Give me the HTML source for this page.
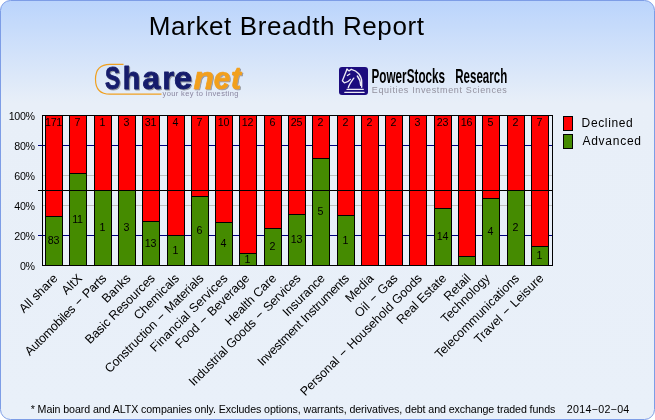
<!DOCTYPE html>
<html><head><meta charset="utf-8"><title>Market Breadth Report</title>
<style>
html,body{margin:0;padding:0;background:#fff;}
body{width:655px;height:420px;overflow:hidden;font-family:"Liberation Sans",sans-serif;}
svg{display:block;font-family:"Liberation Sans",sans-serif;will-change:transform;opacity:0.9999;}
</style></head><body>
<svg width="655" height="420" viewBox="0 0 655 420">
<defs>
<linearGradient id="bg" x1="0" y1="0" x2="0" y2="420" gradientUnits="userSpaceOnUse">
<stop offset="0" stop-color="#bad4fc"/><stop offset="0.245" stop-color="#e8eff8"/><stop offset="1" stop-color="#e9f0f9"/>
</linearGradient>
<filter id="sh" x="-5%" y="-10%" width="115%" height="130%"><feDropShadow dx="1" dy="1" stdDeviation="0.7" flood-color="#555" flood-opacity="0.55"/></filter>
</defs>
<rect x="0.5" y="0.5" width="654" height="419" rx="10" ry="10" fill="url(#bg)" stroke="#7d9de6" stroke-width="1"/>

<text x="148.8" y="34.6" font-size="26" fill="#000" textLength="275.2" lengthAdjust="spacing">Market Breadth Report</text>
<g id="sharenet">
<path d="M123.5 64.3 H110 Q95.5 64.3 95.5 79.2 Q95.5 94.2 110 94.2 H161.5" fill="none" stroke="#f0a020" stroke-width="1.2"/>
<g filter="url(#sh)">
<text transform="translate(105.09,89.3) scale(0.726,1)" font-size="31.5" font-weight="bold" fill="#141c6c" stroke="#141c6c" stroke-width="0.9" stroke-linejoin="round">S</text>
<text transform="translate(122.75,89.3) scale(0.914,1)" font-size="31.5" font-weight="bold" fill="#141c6c" stroke="#141c6c" stroke-width="0.9" stroke-linejoin="round">h</text>
<text transform="translate(142.56,89.3) scale(1.010,1)" font-size="31.5" font-weight="bold" fill="#141c6c" stroke="#141c6c" stroke-width="0.9" stroke-linejoin="round">a</text>
<text transform="translate(162.57,89.3) scale(0.955,1)" font-size="31.5" font-weight="bold" fill="#141c6c" stroke="#141c6c" stroke-width="0.9" stroke-linejoin="round">r</text>
<text transform="translate(173.94,89.3) scale(1.035,1)" font-size="31.5" font-weight="bold" fill="#141c6c" stroke="#141c6c" stroke-width="0.9" stroke-linejoin="round">e</text>
<text transform="translate(193.53,89.3) scale(1.061,1)" font-size="31.5" font-weight="bold" font-style="italic" fill="#f2a01e" stroke="#f2a01e" stroke-width="0.7" stroke-linejoin="round">n</text>
<text transform="translate(213.69,89.3) scale(0.936,1)" font-size="31.5" font-weight="bold" font-style="italic" fill="#f2a01e" stroke="#f2a01e" stroke-width="0.7" stroke-linejoin="round">e</text>
<text transform="translate(230.92,89.3) scale(0.951,1)" font-size="31.5" font-weight="bold" font-style="italic" fill="#f2a01e" stroke="#f2a01e" stroke-width="0.7" stroke-linejoin="round">t</text>
</g>
<text x="162.5" y="96.2" font-size="7.5" fill="#8a86a0" textLength="76" lengthAdjust="spacing">your key to investing</text>
</g>
<g id="ps">
<rect x="339" y="67" width="29" height="28" rx="3" fill="#1c0c7e"/>
<g transform="translate(339,67)" fill="none" stroke="#ffffff" stroke-opacity="0.92" stroke-width="1.35" stroke-linecap="round" stroke-linejoin="round">
<path d="M8 2.2 L3.4 13.7 L5.4 15.9 C8 15.6 10 14.2 11.4 12.4"/>
<path d="M8 2.2 L10.1 3.9 L12.3 2.3 C18.3 3.6 22.7 8.5 22.7 15 V20.2"/>
<path d="M14.8 11.1 C12.5 14.5 10 17.5 9.3 20.6"/>
<path d="M18.3 9 C20.3 11.5 21.5 14.5 21.7 18.4"/>
<path d="M8.4 8.5 L10.8 7"/>
<path d="M8 22.3 H24.3 M5.8 25.3 H25.1"/>
</g>
<text x="371.5" y="83.2" font-size="20.5" font-weight="bold" fill="#000" textLength="73.6" lengthAdjust="spacingAndGlyphs">PowerStocks</text>
<text x="455.3" y="83.2" font-size="20.5" font-weight="bold" fill="#000" textLength="51.9" lengthAdjust="spacingAndGlyphs">Research</text>
<text x="371.8" y="93.4" font-size="9" fill="#93919e" textLength="135" lengthAdjust="spacing">Equities Investment Sciences</text>
</g>
<g shape-rendering="crispEdges">
<rect x="42" y="235" width="510" height="1" fill="#c0c0c0"/>
<rect x="42" y="205" width="510" height="1" fill="#c0c0c0"/>
<rect x="42" y="175" width="510" height="1" fill="#c0c0c0"/>
<rect x="42" y="145" width="510" height="1" fill="#c0c0c0"/>
<rect x="38" y="235" width="514" height="1" fill="#000080"/>
<rect x="38" y="145" width="514" height="1" fill="#000080"/>
<rect x="42" y="115" width="511" height="1" fill="#000"/>
<rect x="42" y="265" width="511" height="1" fill="#000"/>
<rect x="42" y="115" width="1" height="151" fill="#000"/>
<rect x="552" y="115" width="1" height="151" fill="#000"/>
<rect x="45" y="115" width="18" height="151" fill="#000"/>
<rect x="46" y="116" width="16" height="100" fill="#ff0000"/>
<rect x="46" y="217" width="16" height="48" fill="#458b00"/>
<rect x="69" y="115" width="18" height="151" fill="#000"/>
<rect x="70" y="116" width="16" height="57" fill="#ff0000"/>
<rect x="70" y="174" width="16" height="91" fill="#458b00"/>
<rect x="94" y="115" width="18" height="151" fill="#000"/>
<rect x="95" y="116" width="16" height="74" fill="#ff0000"/>
<rect x="95" y="191" width="16" height="74" fill="#458b00"/>
<rect x="118" y="115" width="18" height="151" fill="#000"/>
<rect x="119" y="116" width="16" height="74" fill="#ff0000"/>
<rect x="119" y="191" width="16" height="74" fill="#458b00"/>
<rect x="142" y="115" width="18" height="151" fill="#000"/>
<rect x="143" y="116" width="16" height="105" fill="#ff0000"/>
<rect x="143" y="222" width="16" height="43" fill="#458b00"/>
<rect x="167" y="115" width="18" height="151" fill="#000"/>
<rect x="168" y="116" width="16" height="119" fill="#ff0000"/>
<rect x="168" y="236" width="16" height="29" fill="#458b00"/>
<rect x="191" y="115" width="18" height="151" fill="#000"/>
<rect x="192" y="116" width="16" height="80" fill="#ff0000"/>
<rect x="192" y="197" width="16" height="68" fill="#458b00"/>
<rect x="215" y="115" width="18" height="151" fill="#000"/>
<rect x="216" y="116" width="16" height="106" fill="#ff0000"/>
<rect x="216" y="223" width="16" height="42" fill="#458b00"/>
<rect x="239" y="115" width="18" height="151" fill="#000"/>
<rect x="240" y="116" width="16" height="137" fill="#ff0000"/>
<rect x="240" y="254" width="16" height="11" fill="#458b00"/>
<rect x="264" y="115" width="18" height="151" fill="#000"/>
<rect x="265" y="116" width="16" height="112" fill="#ff0000"/>
<rect x="265" y="229" width="16" height="36" fill="#458b00"/>
<rect x="288" y="115" width="18" height="151" fill="#000"/>
<rect x="289" y="116" width="16" height="98" fill="#ff0000"/>
<rect x="289" y="215" width="16" height="50" fill="#458b00"/>
<rect x="312" y="115" width="18" height="151" fill="#000"/>
<rect x="313" y="116" width="16" height="42" fill="#ff0000"/>
<rect x="313" y="159" width="16" height="106" fill="#458b00"/>
<rect x="337" y="115" width="18" height="151" fill="#000"/>
<rect x="338" y="116" width="16" height="99" fill="#ff0000"/>
<rect x="338" y="216" width="16" height="49" fill="#458b00"/>
<rect x="361" y="115" width="18" height="151" fill="#000"/>
<rect x="362" y="116" width="16" height="149" fill="#ff0000"/>
<rect x="385" y="115" width="18" height="151" fill="#000"/>
<rect x="386" y="116" width="16" height="149" fill="#ff0000"/>
<rect x="409" y="115" width="18" height="151" fill="#000"/>
<rect x="410" y="116" width="16" height="149" fill="#ff0000"/>
<rect x="434" y="115" width="18" height="151" fill="#000"/>
<rect x="435" y="116" width="16" height="92" fill="#ff0000"/>
<rect x="435" y="209" width="16" height="56" fill="#458b00"/>
<rect x="458" y="115" width="18" height="151" fill="#000"/>
<rect x="459" y="116" width="16" height="140" fill="#ff0000"/>
<rect x="459" y="257" width="16" height="8" fill="#458b00"/>
<rect x="482" y="115" width="18" height="151" fill="#000"/>
<rect x="483" y="116" width="16" height="82" fill="#ff0000"/>
<rect x="483" y="199" width="16" height="66" fill="#458b00"/>
<rect x="507" y="115" width="18" height="151" fill="#000"/>
<rect x="508" y="116" width="16" height="74" fill="#ff0000"/>
<rect x="508" y="191" width="16" height="74" fill="#458b00"/>
<rect x="531" y="115" width="18" height="151" fill="#000"/>
<rect x="532" y="116" width="16" height="130" fill="#ff0000"/>
<rect x="532" y="247" width="16" height="18" fill="#458b00"/>
<rect x="38" y="190" width="514" height="1" fill="#000"/>
</g>
<g font-size="10.67" text-anchor="middle" fill="#000" letter-spacing="-0.35">
<text x="53.45" y="125.9">171</text>
<text x="53.45" y="244.4">83</text>
<text x="77.2" y="125.9">7</text>
<text x="77.45" y="222.9">11</text>
<text x="102.2" y="125.9">1</text>
<text x="102.2" y="231.4">1</text>
<text x="126.2" y="125.9">3</text>
<text x="126.2" y="231.4">3</text>
<text x="150.45" y="125.9">31</text>
<text x="150.45" y="246.9">13</text>
<text x="175.2" y="125.9">4</text>
<text x="175.2" y="253.9">1</text>
<text x="199.2" y="125.9">7</text>
<text x="199.2" y="234.4">6</text>
<text x="223.45" y="125.9">10</text>
<text x="223.2" y="247.4">4</text>
<text x="247.45" y="125.9">12</text>
<text x="247.2" y="262.9">1</text>
<text x="272.2" y="125.9">6</text>
<text x="272.2" y="250.4">2</text>
<text x="296.45" y="125.9">25</text>
<text x="296.45" y="243.4">13</text>
<text x="320.2" y="125.9">2</text>
<text x="320.2" y="215.4">5</text>
<text x="345.2" y="125.9">2</text>
<text x="345.2" y="243.9">1</text>
<text x="369.2" y="125.9">2</text>
<text x="393.2" y="125.9">2</text>
<text x="417.2" y="125.9">3</text>
<text x="442.45" y="125.9">23</text>
<text x="442.45" y="240.4">14</text>
<text x="466.45" y="125.9">16</text>
<text x="490.2" y="125.9">5</text>
<text x="490.2" y="235.4">4</text>
<text x="515.2" y="125.9">2</text>
<text x="515.2" y="231.4">2</text>
<text x="539.2" y="125.9">7</text>
<text x="539.2" y="259.4">1</text>
</g>
<g font-size="10.67" text-anchor="end" fill="#000" letter-spacing="-0.3">
<text x="34.7" y="269.8">0%</text>
<text x="34.7" y="239.8">20%</text>
<text x="34.7" y="209.8">40%</text>
<text x="34.7" y="179.8">60%</text>
<text x="34.7" y="149.8">80%</text>
<text x="34.7" y="119.8">100%</text>
</g>
<g font-size="12.5" text-anchor="end" fill="#000">
<text transform="translate(58.5,279) rotate(-45)" x="0" y="0">All share</text>
<text transform="translate(82.8,279) rotate(-45)" x="0" y="0">AltX</text>
<text transform="translate(107.1,279) rotate(-45)" x="0" y="0" textLength="109.3" lengthAdjust="spacing">Automobiles <tspan dx="1.3">−</tspan><tspan dx="1.3"> </tspan>Parts</text>
<text transform="translate(131.4,279) rotate(-45)" x="0" y="0">Banks</text>
<text transform="translate(155.7,279) rotate(-45)" x="0" y="0" textLength="92.8" lengthAdjust="spacing">Basic Resources</text>
<text transform="translate(180.0,279) rotate(-45)" x="0" y="0">Chemicals</text>
<text transform="translate(204.3,279) rotate(-45)" x="0" y="0" textLength="133.7" lengthAdjust="spacing">Construction <tspan dx="1.3">−</tspan><tspan dx="1.3"> </tspan>Materials</text>
<text transform="translate(228.5,279) rotate(-45)" x="0" y="0" textLength="103.9" lengthAdjust="spacing">Financial Services</text>
<text transform="translate(250.1,279) rotate(-45)" x="0" y="0">Food <tspan dx="1.3">−</tspan><tspan dx="1.3"> </tspan>Beverage</text>
<text transform="translate(277.1,279) rotate(-45)" x="0" y="0">Health Care</text>
<text transform="translate(301.4,279) rotate(-45)" x="0" y="0" textLength="152.2" lengthAdjust="spacing">Industrial Goods <tspan dx="1.3">−</tspan><tspan dx="1.3"> </tspan>Services</text>
<text transform="translate(325.7,279) rotate(-45)" x="0" y="0" textLength="53.9" lengthAdjust="spacing">Insurance</text>
<text transform="translate(350.0,279) rotate(-45)" x="0" y="0" textLength="123.9" lengthAdjust="spacing">Investment Instruments</text>
<text transform="translate(374.3,279) rotate(-45)" x="0" y="0">Media</text>
<text transform="translate(398.5,279) rotate(-45)" x="0" y="0">Oil <tspan dx="1.3">−</tspan><tspan dx="1.3"> </tspan>Gas</text>
<text transform="translate(422.8,279) rotate(-45)" x="0" y="0">Personal <tspan dx="1.3">−</tspan><tspan dx="1.3"> </tspan>Household Goods</text>
<text transform="translate(447.1,279) rotate(-45)" x="0" y="0">Real Estate</text>
<text transform="translate(471.4,279) rotate(-45)" x="0" y="0">Retail</text>
<text transform="translate(490.7,279) rotate(-45)" x="0" y="0">Technology</text>
<text transform="translate(520.0,279) rotate(-45)" x="0" y="0">Telecommunications</text>
<text transform="translate(544.3,279) rotate(-45)" x="0" y="0">Travel <tspan dx="1.3">−</tspan><tspan dx="1.3"> </tspan>Leisure</text>
</g>
<g shape-rendering="crispEdges">
<rect x="563" y="116" width="10" height="15" fill="#000"/><rect x="564" y="117" width="8" height="13" fill="#ff0000"/>
<rect x="563" y="134" width="10" height="15" fill="#000"/><rect x="564" y="135" width="8" height="13" fill="#458b00"/>
</g>
<text x="581.6" y="126.7" font-size="12" fill="#000" textLength="51.2" lengthAdjust="spacing">Declined</text>
<text x="582.4" y="144.7" font-size="12" fill="#000" textLength="58.6" lengthAdjust="spacing">Advanced</text>

<text x="30.7" y="412.5" font-size="10.67" fill="#000" textLength="524.6" lengthAdjust="spacing">* Main board and ALTX companies only. Excludes options, warrants, derivatives, debt and exchange traded funds</text>
<text x="566.7" y="412.5" font-size="10.67" fill="#000" textLength="62.6" lengthAdjust="spacing">2014−02−04</text>
</svg></body></html>
